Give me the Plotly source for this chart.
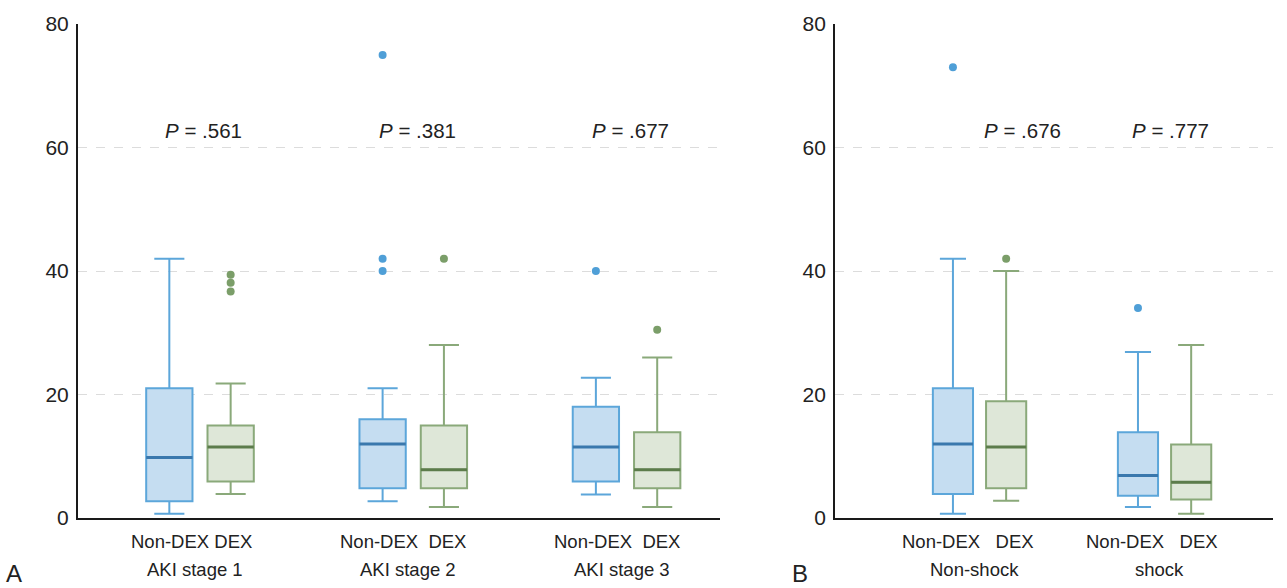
import plotly.graph_objects as go

# ---------------- data ----------------
aki_groups = ["AKI stage 1", "AKI stage 2", "AKI stage 3"]
shock_groups = ["Non-shock", "shock"]
aki_sub_labels = ["Non-DEX DEX", "Non-DEX\u00a0\u00a0DEX", "Non-DEX\u00a0\u00a0DEX"]
shock_sub_labels = ["Non-DEX\u00a0\u00a0\u00a0DEX", "Non-DEX\u00a0\u00a0\u00a0DEX"]

aki_nondex_low = [0.7, 2.7, 3.8]
aki_nondex_q1 = [2.7, 4.8, 5.9]
aki_nondex_med = [9.8, 12.0, 11.5]
aki_nondex_q3 = [21.0, 16.0, 18.0]
aki_nondex_up = [42.0, 21.0, 22.7]
aki_nondex_out = [[], [40.0, 42.0, 75.0], [40.0]]

aki_dex_low = [3.9, 1.8, 1.8]
aki_dex_q1 = [5.9, 4.8, 4.8]
aki_dex_med = [11.5, 7.8, 7.8]
aki_dex_q3 = [15.0, 15.0, 13.9]
aki_dex_up = [21.8, 28.0, 26.0]
aki_dex_out = [[36.7, 38.1, 39.4], [42.0], [30.5]]

shock_nondex_low = [0.7, 1.8]
shock_nondex_q1 = [3.9, 3.6]
shock_nondex_med = [12.0, 6.9]
shock_nondex_q3 = [21.0, 13.9]
shock_nondex_up = [42.0, 26.9]
shock_nondex_out = [[73.0], [34.0]]

shock_dex_low = [2.8, 0.7]
shock_dex_q1 = [4.8, 3.0]
shock_dex_med = [11.5, 5.8]
shock_dex_q3 = [18.9, 11.9]
shock_dex_up = [40.0, 28.0]
shock_dex_out = [[42.0], []]

aki_pvalues = [".561", ".381", ".677"]
shock_pvalues = [".676", ".777"]

# ---------------- style ----------------
BLUE_LINE = "#5ca6da"
BLUE_FILL = "#c5ddf1"
BLUE_MED = "#3a78ad"
BLUE_PT = "#4f9fd7"
GREEN_LINE = "#8aa97a"
GREEN_FILL = "#dee7d8"
GREEN_MED = "#5c7c4b"
GREEN_PT = "#7b9e69"
FONT = "Liberation Sans, Arial, sans-serif"

fig = go.Figure()


def add_group(cats, low, q1, med, q3, up, out, line, fill, medc, ptc, xa, ya, og, ag):
    # sample points per box: the outliers plus the median (inside the box, so never drawn)
    samples = [list(o) + [m] for o, m in zip(out, med)]
    fig.add_trace(go.Box(
        x=cats, y=samples, q1=q1, median=med, q3=q3, lowerfence=low, upperfence=up,
        boxpoints="outliers", pointpos=0, jitter=0,
        marker=dict(color=ptc, size=8, line=dict(width=0)),
        line=dict(color=line, width=2), fillcolor=fill,
        whiskerwidth=0.65, xaxis=xa, yaxis=ya,
        offsetgroup=og, alignmentgroup=ag, showlegend=False, hoverinfo="skip",
    ))
    # darker median line overlay
    fig.add_trace(go.Box(
        x=cats, q1=med, median=med, q3=med, lowerfence=med, upperfence=med,
        boxpoints=False, line=dict(color=medc, width=3), fillcolor="rgba(0,0,0,0)",
        whiskerwidth=0, xaxis=xa, yaxis=ya,
        offsetgroup=og, alignmentgroup=ag, showlegend=False, hoverinfo="skip",
    ))


add_group(aki_groups, aki_nondex_low, aki_nondex_q1, aki_nondex_med, aki_nondex_q3,
          aki_nondex_up, aki_nondex_out, BLUE_LINE, BLUE_FILL, BLUE_MED, BLUE_PT, "x", "y", "nd", "A")
add_group(aki_groups, aki_dex_low, aki_dex_q1, aki_dex_med, aki_dex_q3,
          aki_dex_up, aki_dex_out, GREEN_LINE, GREEN_FILL, GREEN_MED, GREEN_PT, "x", "y", "d", "A")
add_group(shock_groups, shock_nondex_low, shock_nondex_q1, shock_nondex_med, shock_nondex_q3,
          shock_nondex_up, shock_nondex_out, BLUE_LINE, BLUE_FILL, BLUE_MED, BLUE_PT, "x2", "y2", "nd", "B")
add_group(shock_groups, shock_dex_low, shock_dex_q1, shock_dex_med, shock_dex_q3,
          shock_dex_up, shock_dex_out, GREEN_LINE, GREEN_FILL, GREEN_MED, GREEN_PT, "x2", "y2", "d", "B")

yaxis_common = dict(
    range=[0, 80], dtick=20, showgrid=True, gridcolor="#dcdcdc", griddash="dash", gridwidth=1,
    zeroline=False, showline=True, linecolor="#1a1a1a", linewidth=2, ticks="",
    tickfont=dict(size=21, color="#222", family=FONT), ticklabelstandoff=3,
)
xaxis_common = dict(
    type="category", showgrid=False, zeroline=False, showline=True, linecolor="#1a1a1a",
    linewidth=2, ticks="", showticklabels=False,
)

fig.update_layout(
    width=1287, height=588,
    margin=dict(l=78, r=14, t=22, b=70),
    paper_bgcolor="white", plot_bgcolor="white",
    boxmode="group", boxgap=0.425, boxgroupgap=0.245,
    font=dict(family=FONT, color="#222"),
    xaxis=dict(domain=[0, 0.5372], range=[-0.572, 2.438], **xaxis_common),
    yaxis=dict(anchor="x", **yaxis_common),
    xaxis2=dict(domain=[0.6335, 1], range=[-0.781, 1.586], anchor="y2", **xaxis_common),
    yaxis2=dict(anchor="x2", **yaxis_common),
)

PFONT = dict(size=20.5, family=FONT, color="#222")
GFONT = dict(size=18.5, family=FONT, color="#222")
for g, p, sub, sx in zip(aki_groups, aki_pvalues, aki_sub_labels, [-8, -10, -10]):
    fig.add_annotation(x=g, y=62.7, xref="x", yref="y", text=f"<i>P</i> = {p}", showarrow=False,
                       xshift=4, font=PFONT)
    fig.add_annotation(x=g, y=0, xref="x", yref="y", text=sub, showarrow=False, yanchor="middle",
                       xshift=sx, yshift=-23, font=GFONT)
    fig.add_annotation(x=g, y=0, xref="x", yref="y", text=g, showarrow=False, yanchor="middle",
                       xshift=-5, yshift=-51, font=GFONT)
for g, p, xs, sub, sx in zip(shock_groups, shock_pvalues, [43, 6], shock_sub_labels, [-12, -13]):
    fig.add_annotation(x=g, y=62.7, xref="x2", yref="y2", text=f"<i>P</i> = {p}", showarrow=False,
                       xshift=xs, font=PFONT)
    fig.add_annotation(x=g, y=0, xref="x2", yref="y2", text=sub, showarrow=False, yanchor="middle",
                       xshift=sx, yshift=-23, font=GFONT)
    fig.add_annotation(x=g, y=0, xref="x2", yref="y2", text=g, showarrow=False, yanchor="middle",
                       xshift=-5, yshift=-51, font=GFONT)

LFONT = dict(size=24, family=FONT, color="#222")
fig.add_annotation(x=-0.062, y=-0.112, xref="paper", yref="paper", text="A", showarrow=False,
                   xanchor="left", yanchor="middle", font=LFONT)
fig.add_annotation(x=0.5955, y=-0.112, xref="paper", yref="paper", text="B", showarrow=False,
                   xanchor="left", yanchor="middle", font=LFONT)

fig.write_html("out.html")
